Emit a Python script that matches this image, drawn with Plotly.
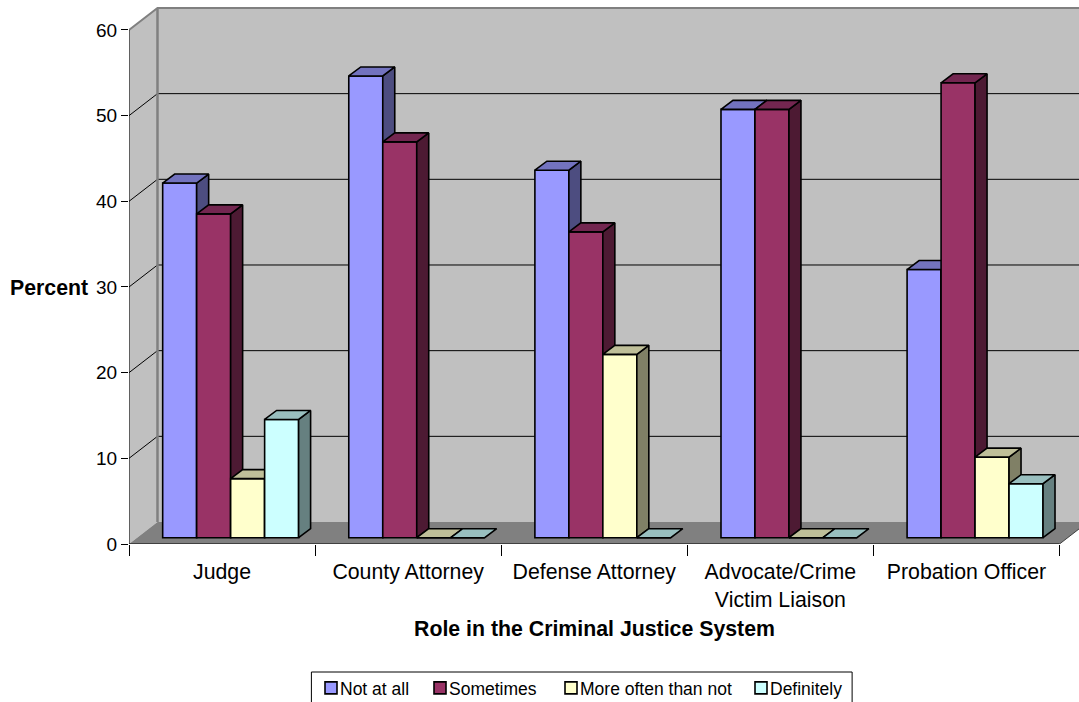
import plotly.graph_objects as go

categories = ["Judge", "County Attorney", "Defense Attorney", "Advocate/Crime<br>Victim Liaison", "Probation Officer"]
series_names = ["Not at all", "Sometimes", "More often than not", "Definitely"]
not_at_all = [41.4, 53.9, 42.9, 50.0, 31.3]
sometimes = [37.8, 46.2, 35.7, 50.0, 53.1]
more_often = [6.9, 0, 21.4, 0, 9.4]
definitely = [13.8, 0, 0, 0, 6.3]
y_ticks = [0, 10, 20, 30, 40, 50, 60]

all_values = [not_at_all, sometimes, more_often, definitely]
front = ["#9999ff", "#993366", "#ffffcc", "#ccffff"]
top = ["#7373bf", "#732650", "#bfbf99", "#99bfbf"]
side = ["#4d4d80", "#4d1a33", "#808066", "#668080"]
legend_text_x = [340, 449, 580, 770]

W, H = 1079, 702
PX, PY = 186.2, 8.567          # pixels per category, per percent
L, B = 128.5, 544
XMAX = (W - L) / PX
YMAX = B / PY
WALL_X, WALL_Y = 28.5 / PX, 22 / PY   # depth of the floor
BAR_X, BAR_Y = 12 / PX, 9 / PY        # depth of a bar
BASE = 6.3 / PY                       # bar base above the front edge
START = 33.7 / PX
BAR_W = 34 / PX
INK = "#000000"
GRAY = "#808080"
OUTLINE = 1.6

fig = go.Figure()


def poly(xs, ys, fill, line=None, width=1.0, xa="x", ya="y", clip=True):
    fig.add_trace(go.Scatter(
        x=xs, y=ys, xaxis=xa, yaxis=ya, mode="lines",
        fill="toself" if fill else None, fillcolor=fill,
        line=dict(color=line or "rgba(0,0,0,0)", width=width),
        showlegend=False, hoverinfo="skip", cliponaxis=clip))


# walls and floor
poly([0, WALL_X, WALL_X, 0, 0], [0, WALL_Y, 60 + WALL_Y, 60, 0], "#c0c0c0")
poly([WALL_X, XMAX, XMAX, WALL_X, WALL_X], [WALL_Y, WALL_Y, 60 + WALL_Y, 60 + WALL_Y, WALL_Y], "#c0c0c0")
poly([0, 5, 5 + WALL_X, WALL_X, 0], [0, 0, WALL_Y, WALL_Y, 0], GRAY)
for v in y_ticks[1:-1]:
    poly([0, WALL_X, XMAX], [v, v + WALL_Y, v + WALL_Y], None, INK, 1)
poly([0, WALL_X, XMAX], [60, 60 + WALL_Y, 60 + WALL_Y], None, GRAY, 2)
poly([WALL_X, WALL_X], [WALL_Y, 60 + WALL_Y], None, GRAY, 2.5)
poly([5, 5 + WALL_X], [0, WALL_Y], None, "#404040", 1)
poly([0, 0], [0, 60], None, INK, 1, clip=False)
poly([0, 5], [0, 0], None, INK, 1, clip=False)

# one overlaid pair of axes per series, so each series paints over the one before it
for i, (name, vals) in enumerate(zip(series_names, all_values)):
    xa, ya = f"x{i + 2}", f"y{i + 2}"
    xs = [k + START + (i + 0.5) * BAR_W for k in range(5)]
    fig.add_trace(go.Bar(
        x=xs, y=vals, base=BASE, width=BAR_W, name=name, xaxis=xa, yaxis=ya,
        legend="legend" if i == 0 else f"legend{i + 1}",
        marker=dict(color=front[i], line=dict(color=INK, width=OUTLINE)),
        hovertemplate=name + ": %{y}<extra></extra>"))
    tx, ty, sx, sy = [], [], [], []
    for x, v in zip(xs, vals):
        x0, x1 = x - BAR_W / 2, x + BAR_W / 2
        y1 = BASE + v
        tx += [x0, x1, x1 + BAR_X, x0 + BAR_X, x0, None]
        ty += [y1, y1, y1 + BAR_Y, y1 + BAR_Y, y1, None]
        if v > 0:
            sx += [x1, x1 + BAR_X, x1 + BAR_X, x1, x1, None]
            sy += [BASE, BASE + BAR_Y, y1 + BAR_Y, y1, BASE, None]
    if sx:
        poly(sx, sy, side[i], INK, OUTLINE, xa, ya)
    poly(tx, ty, top[i], INK, OUTLINE, xa, ya)

FONT = "Liberation Sans, Arial, sans-serif"
layout = dict(
    width=W, height=H, paper_bgcolor="white", plot_bgcolor="white",
    margin=dict(l=L, r=0, t=0, b=H - B, pad=0, autoexpand=False),
    font=dict(family=FONT, size=16, color="black"),
    xaxis=dict(range=[0, XMAX], tickvals=[k + 0.5 for k in range(5)], ticktext=categories,
               showgrid=False, zeroline=False, showline=False, ticks="", ticklen=0,
               minor=dict(dtick=1, tick0=0, ticks="outside", ticklen=11, tickcolor=INK, tickwidth=1, showgrid=False),
               tickfont=dict(size=21.3), ticklabelstandoff=13, fixedrange=True),
    yaxis=dict(range=[0, YMAX], tickvals=y_ticks, showgrid=False, zeroline=False, showline=False,
               ticks="outside", ticklen=7, tickcolor=INK, tickwidth=1,
               tickfont=dict(size=19), fixedrange=True),
    barmode="overlay",
    showlegend=True,
    shapes=[dict(type="rect", xref="paper", yref="paper", x0=(311 - L) / (W - L), x1=(852 - L) / (W - L),
                 y0=(B - 672) / B, y1=(B - 715) / B, line=dict(color=INK, width=1), fillcolor="white", layer="below")],
    annotations=[
        dict(text="<b>Percent</b>", xref="paper", yref="paper", x=-39 / (W - L), y=(B - 288) / B,
             xanchor="right", yanchor="middle", showarrow=False, font=dict(size=21.3)),
        dict(text="<b>Role in the Criminal Justice System</b>", xref="paper", yref="paper",
             x=(594 - L) / (W - L), y=(B - 629) / B, xanchor="center", yanchor="middle",
             showarrow=False, font=dict(size=21.3)),
    ],
)
for i, tx in enumerate(legend_text_x):
    key = "legend" if i == 0 else f"legend{i + 1}"
    layout[key] = dict(orientation="h", x=(tx - 40) / W, xanchor="left", xref="container",
                       y=1 - 670 / H, yanchor="top", yref="container",
                       borderwidth=0, font=dict(size=17.5), bgcolor="rgba(0,0,0,0)")
for i in range(2, 6):
    layout[f"xaxis{i}"] = dict(range=[0, XMAX], overlaying="x", visible=False, fixedrange=True)
    layout[f"yaxis{i}"] = dict(range=[0, YMAX], overlaying="y", visible=False, fixedrange=True)
fig.update_layout(**layout)

# page margin off; legend swatches sit next to their text as in the reference
post = """
document.body.style.margin = '0';
document.querySelectorAll('.legendsymbols').forEach(function (g) {
  g.setAttribute('transform', 'translate(11,0)');
});
"""
fig.write_html("out.html", post_script=post, config={"displayModeBar": False})
